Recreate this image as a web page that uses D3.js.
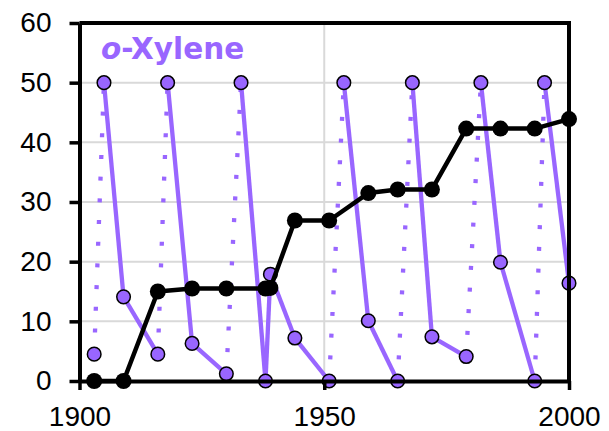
<!DOCTYPE html>
<html>
<head>
<meta charset="utf-8">
<script src="https://cdn.jsdelivr.net/npm/d3@7"></script>
<style>
  body { margin: 0; background: #fff; }
  svg { display: block; }
  .axis text { font-family: "Liberation Sans", Arial, sans-serif; font-size: 28px; fill: #000; }
</style>
</head>
<body>
<svg width="609" height="431"></svg>
<script>
// purple sawtooth (o-Xylene), solid falls, dotted refills
var oxYears = [1903, 1905, 1909, 1916, 1918, 1923, 1930, 1933, 1938, 1939, 1944, 1951,
               1954, 1959, 1965, 1968, 1972, 1979, 1982, 1986, 1993, 1995, 2000];
var oxValues = [4.5, 50, 14.1, 4.5, 50, 6.3, 1.2, 50, 0, 17.9, 7.2, 0,
                50, 10.1, 0, 50, 7.4, 4.1, 50, 19.9, 0, 50, 16.4];
// years where a dotted (refill) segment starts
var refillStart = [1903, 1916, 1930, 1951, 1965, 1979, 1993];

// black cumulative line
var totalYears = [1903, 1909, 1916, 1923, 1930, 1938, 1939, 1944, 1951, 1959, 1965, 1972, 1979, 1986, 1993, 2000];
var totalValues = [0, 0, 15.0, 15.5, 15.5, 15.5, 15.6, 26.9, 26.9, 31.5, 32.1, 32.1, 42.3, 42.3, 42.3, 43.9];

var yTicks = [0, 10, 20, 30, 40, 50, 60];
var xTicks = [1900, 1950, 2000];
var title = "-Xylene";

var purple = "#9966ff";

var svg = d3.select("svg");
var mLeft = 79.5, mRight = 569, mTop = 23, mBottom = 381;

var x = d3.scaleLinear().domain([1900, 2000]).range([mLeft, mRight]);
var y = d3.scaleLinear().domain([0, 60]).range([mBottom, mTop]);

// gridlines
var grid = svg.append("g").attr("stroke", "#d9d9d9").attr("stroke-width", 2);
grid.selectAll("line.h")
  .data(yTicks.filter(d => d > 0 && d < 60))
  .enter().append("line")
    .attr("x1", mLeft).attr("x2", mRight)
    .attr("y1", d => y(d)).attr("y2", d => y(d));
grid.selectAll("line.v")
  .data(xTicks.filter(d => d > 1900 && d < 2000))
  .enter().append("line")
    .attr("x1", d => x(d)).attr("x2", d => x(d))
    .attr("y1", mTop).attr("y2", mBottom);

// title
var t = svg.append("text")
  .attr("x", 101)
  .attr("y", 59)
  .attr("font-family", "'DejaVu Sans', Verdana, sans-serif")
  .attr("font-weight", "bold")
  .attr("font-size", 29.5)
  .attr("fill", purple);
t.append("tspan").attr("font-style", "italic").text("o");
t.append("tspan").text(title);

// purple segments
var oxPts = oxYears.map((d, i) => ({year: d, value: oxValues[i]}));
var segs = d3.pairs(oxPts);
svg.append("g").selectAll("line")
  .data(segs)
  .enter().append("line")
    .attr("x1", d => x(d[0].year)).attr("y1", d => y(d[0].value))
    .attr("x2", d => x(d[1].year)).attr("y2", d => y(d[1].value))
    .attr("stroke", purple)
    .attr("stroke-width", 4.3)
    .attr("stroke-dasharray", d => refillStart.includes(d[0].year) ? "4 17.7" : null);

svg.append("g").selectAll("circle")
  .data(oxPts)
  .enter().append("circle")
    .attr("cx", d => x(d.year))
    .attr("cy", d => y(d.value))
    .attr("r", 6.8)
    .attr("fill", purple)
    .attr("stroke", "#000")
    .attr("stroke-width", 1.5);

// black line
var totPts = totalYears.map((d, i) => ({year: d, value: totalValues[i]}));
svg.append("path")
  .datum(totPts)
  .attr("fill", "none")
  .attr("stroke", "#000")
  .attr("stroke-width", 4.5)
  .attr("stroke-linejoin", "round")
  .attr("d", d3.line().x(d => x(d.year)).y(d => y(d.value)));

svg.append("g").selectAll("circle")
  .data(totPts)
  .enter().append("circle")
    .attr("cx", d => x(d.year))
    .attr("cy", d => y(d.value))
    .attr("r", 8)
    .attr("fill", "#000");

// frame (top, right)
svg.append("path")
  .attr("d", "M" + mLeft + "," + mTop + "H" + mRight + "V" + mBottom)
  .attr("fill", "none")
  .attr("stroke", "#000")
  .attr("stroke-width", 4);

// axes
svg.append("g")
  .attr("class", "axis")
  .attr("transform", "translate(" + mLeft + ",0)")
  .call(d3.axisLeft(y).tickValues(yTicks).tickSize(10).tickPadding(18).tickSizeOuter(0));

svg.append("g")
  .attr("class", "axis")
  .attr("transform", "translate(0," + mBottom + ")")
  .call(d3.axisBottom(x).tickValues(xTicks).tickFormat(d3.format("d")).tickSize(9).tickPadding(16).tickSizeOuter(0));

svg.selectAll(".axis .domain").attr("stroke-width", 4).attr("stroke", "#000");
svg.selectAll(".axis .tick line").attr("stroke-width", 3.5).attr("stroke", "#000");
</script>
</body>
</html>
